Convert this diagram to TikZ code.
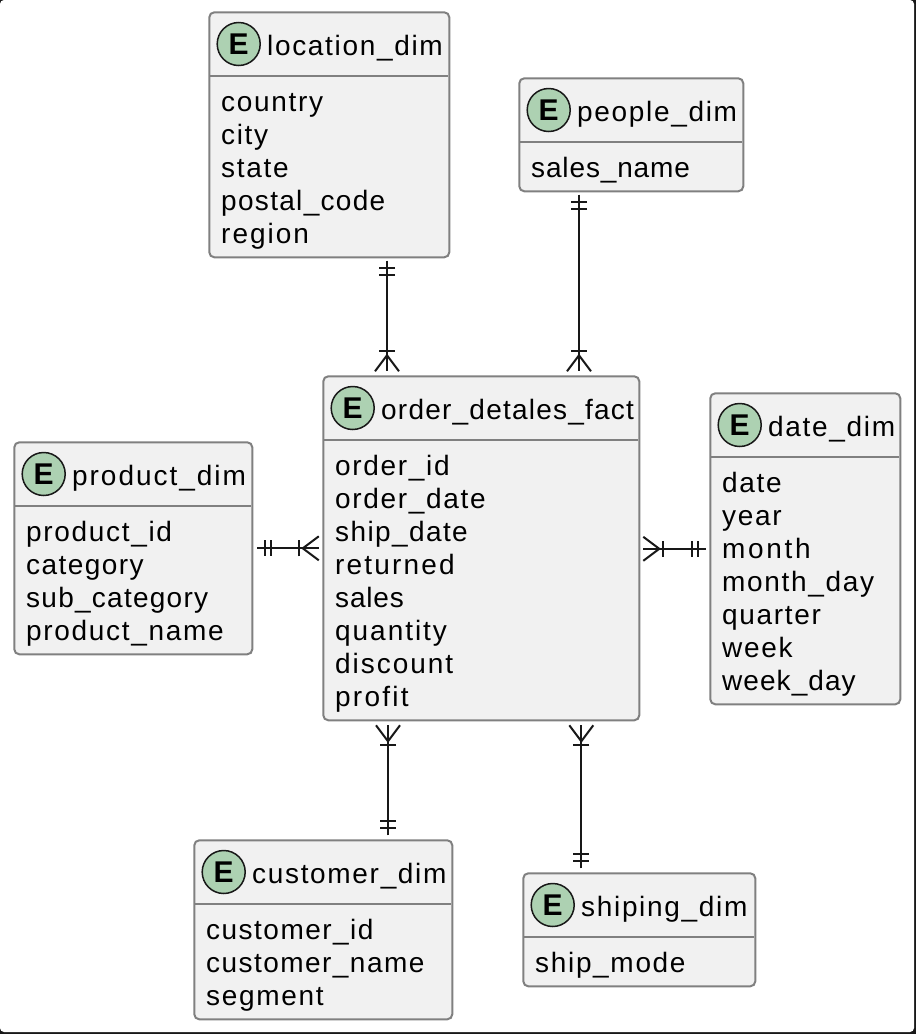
\documentclass[tikz,border=0pt]{standalone}
\usepackage{fontspec}
\setmainfont[LetterSpace=6,Ligatures=NoCommon]{Liberation Sans}
\newfontfamily\circfont{Liberation Sans}
\usetikzlibrary{calc}
\definecolor{boxfill}{HTML}{F1F1F1}
\definecolor{boxline}{HTML}{808080}
\definecolor{circfill}{HTML}{ADD1B2}
\definecolor{inkdark}{HTML}{181818}
\tikzset{
  x=1pt,y=-1pt,
  entitybox/.style={draw=boxline,fill=boxfill,line width=2pt,rounded corners=5pt,inner sep=0pt,anchor=north west},
  badge/.style={circle,draw=inkdark,fill=circfill,line width=1.5pt,minimum size=43pt,inner sep=0pt,text=black,font=\circfont\fontsize{30}{30}\selectfont\bfseries},
  titletext/.style={anchor=west,inner sep=0pt,text=black,font=\fontsize{28}{33}\selectfont,text height=20pt,text depth=6pt},
  attrtext/.style={anchor=north west,inner sep=0pt,align=left,text=black,font=\fontsize{28}{33}\selectfont},
  sepline/.style={draw=boxline,line width=2pt},
  link/.style={draw=inkdark,line width=2pt}
}
\newcommand{\ls}[2]{{\addfontfeature{LetterSpace=#1}#2}}
% \entity{name}{left}{top}{right}{bottom}{sep y}{title}{attrs}
\newcommand{\entity}[8]{%
  \node[entitybox,minimum width=#4pt-#2pt,minimum height=#5pt-#3pt] (#1) at (#2-0.7,#3-0.7) {};
  \node[badge] (#1E) at (#2+29.7,#3+32) {E};
  \node[titletext] (#1T) at (#2+58,#3+36.5) {#7};
  \coordinate (#1SL) at (#2+1,#6-0.3);
  \coordinate (#1SR) at (#4-1,#6-0.3);
  \draw[sepline] (#1SL) -- (#1SR);
  \node[attrtext] (#1A) at (#2+12,#6+15) {\rule{0pt}{20.5pt}#8};
}
% marks drawn at a named end point; local +x points away from the box along the line
\newcommand{\onlyone}[2]{%
  \begin{scope}[shift={(#1)},rotate=#2]
    \draw[link] (7.4,-8) -- (7.4,8);
    \draw[link] (14,-8) -- (14,8);
  \end{scope}}
\newcommand{\onemany}[2]{%
  \begin{scope}[shift={(#1)},rotate=#2]
    \draw[link] (0,-12) -- (16,0) -- (0,12);
    \draw[link] (20,-8) -- (20,8);
  \end{scope}}
\begin{document}
\begin{tikzpicture}
\useasboundingbox (0,0) rectangle (916,1034);
\fill[inkdark] (0,0) rectangle (916,1034);
\fill[white,rounded corners=4pt] (0,0) rectangle (914,1032);

\entity{location}{209}{12}{449}{257}{76}{location\_dim}{country\\city\\state\\\ls{4.7}{postal\_code}\\\ls{7.2}{region}}
\entity{people}{519}{78}{743}{191}{142}{people\_dim}{\ls{3.1}{sales\_name}}
\entity{fact}{323}{376}{639}{720}{440}{\ls{4.4}{order\_detales\_fact}}{order\_id\\order\_date\\\ls{5}{ship\_date}\\\ls{7.8}{returned}\\\ls{3}{sales}\\\ls{7}{quantity}\\\ls{7}{discount}\\\ls{8}{profit}}
\entity{product}{14}{442}{252}{654}{506}{\ls{7}{product\_dim}}{product\_id\\\ls{5.1}{category}\\\ls{4.5}{sub\_category}\\product\_name}
\entity{date}{710}{393}{900}{704}{457}{date\_dim}{date\\year\\\ls{9.6}{month}\\month\_day\\quarter\\week\\\ls{3.8}{week\_day}}
\entity{customer}{194}{840}{452}{1019}{904}{customer\_dim}{\ls{5.3}{customer\_id}\\\ls{5.2}{customer\_name}\\segment}
\entity{shiping}{523}{873}{755}{986}{937}{shiping\_dim}{ship\_mode}

% connector end points
\coordinate (locEnd) at ([xshift=57.7pt,yshift=-2.3pt]location.south);
\coordinate (factN1) at ([xshift=-94.3pt,yshift=4pt]fact.north);
\coordinate (peoEnd) at ([xshift=-52.3pt,yshift=-2.3pt]people.south);
\coordinate (factN2) at ([xshift=97.7pt,yshift=4pt]fact.north);
\coordinate (proEnd) at ([xshift=4pt,yshift=0pt]product.east);
\coordinate (factW) at ([xshift=-3.5pt]fact.west);
\coordinate (datEnd) at ([xshift=-3.5pt]date.west);
\coordinate (factE) at ([xshift=3pt,yshift=-0.5pt]fact.east);
\coordinate (cusEnd) at ([xshift=64.7pt,yshift=4pt]customer.north);
\coordinate (factS1) at ([xshift=-93.3pt,yshift=-4pt]fact.south);
\coordinate (shiEnd) at ([xshift=-58pt,yshift=4pt]shiping.north);
\coordinate (factS2) at ([xshift=100pt,yshift=-4pt]fact.south);

\draw[link] (locEnd) -- (factN1);
\draw[link] (peoEnd) -- (factN2);
\draw[link] (proEnd) -- (factW);
\draw[link] (datEnd) -- (factE);
\draw[link] (cusEnd) -- (factS1);
\draw[link] (shiEnd) -- (factS2);

\onlyone{locEnd}{-90}
\onemany{factN1}{90}
\onlyone{peoEnd}{-90}
\onemany{factN2}{90}
\onlyone{proEnd}{0}
\onemany{factW}{180}
\onlyone{datEnd}{180}
\onemany{factE}{0}
\onlyone{cusEnd}{90}
\onemany{factS1}{-90}
\onlyone{shiEnd}{90}
\onemany{factS2}{-90}
\end{tikzpicture}
\end{document}
